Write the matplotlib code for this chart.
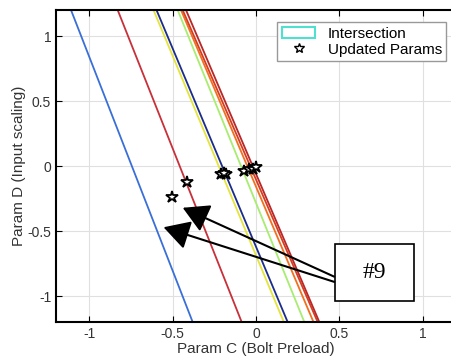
import numpy as np
import matplotlib.pyplot as plt
from matplotlib.patches import Patch, Rectangle
from matplotlib.lines import Line2D

# line ends: x at y = 1.2 (top) and at y = -1.2 (bottom)
x_top = [-1.11, -0.83, -0.615, -0.597, -0.47, -0.45, -0.44, -0.42]
x_bot = [-0.38, -0.086, 0.167, 0.19, 0.29, 0.345, 0.37, 0.38]
line_colors = ['#3a6fd8', '#c8303a', '#e4e43c', '#1c2c8c', '#a8ec70', '#f07020', '#d83c20', '#b82828']
y_ends = [1.2, -1.2]

# updated params (stars)
star_x = [-0.507, -0.417, -0.21, -0.18, -0.19, -0.073, -0.043, -0.02, 0.0]
star_y = [-0.237, -0.12, -0.06, -0.06, -0.055, -0.04, -0.02, -0.02, -0.01]

plt.rcParams['font.family'] = ['Liberation Sans', 'DejaVu Sans']
fig = plt.figure(figsize=(4.52, 3.62), dpi=100)
ax = fig.add_axes([0.124, 0.110, 0.885, 0.862])

for xt, xb, c in zip(x_top, x_bot, line_colors):
    ax.plot([xt, xb], y_ends, color=c, lw=1.3)

ax.plot(star_x, star_y, linestyle='none', marker='*', ms=9, mfc='white', mec='black', mew=1.3)

ax.set_xlim(-1.2, 1.2)
ax.set_ylim(-1.2, 1.2)
ax.set_xticks([-1, -0.5, 0, 0.5, 1])
ax.set_xticklabels(['-1', '-0.5', '0', '0.5', '1'])
ax.set_yticks([-1, -0.5, 0, 0.5, 1])
ax.set_yticklabels(['-1', '-0.5', '0', '0.5', '1'])
ax.grid(True, color='#e0e0e0', lw=0.8)
ax.set_axisbelow(True)
ax.tick_params(direction='in', top=True, right=False, labelsize=10, labelcolor='#333333', length=4)
for s in ax.spines.values():
    s.set_linewidth(1.5)
ax.spines['right'].set_visible(False)
ax.set_xlabel('Param C (Bolt Preload)', fontsize=11, color='#333333', labelpad=1)
ax.set_ylabel('Param D (Input scaling)', fontsize=11, color='#333333', labelpad=1)

handles = [Patch(facecolor='none', edgecolor='#50e0d0', lw=1.5),
           Line2D([], [], linestyle='none', marker='*', ms=7, mfc='white', mec='black')]
leg = ax.legend(handles, ['Intersection', 'Updated Params'], loc='upper right',
                bbox_to_anchor=(0.995, 0.985), fontsize=11, fancybox=False,
                borderpad=0.3, labelspacing=0.1, handletextpad=0.8, handlelength=2.2,
                framealpha=1)
leg.get_frame().set_edgecolor('#999999')

# annotation box "#9"
ax.add_patch(Rectangle((0.475, -1.04), 0.47, 0.445, facecolor='white', edgecolor='black', lw=1.2, zorder=5))
ax.text(0.71, -0.82, '#9', fontsize=17, family='Liberation Serif', ha='center', va='center', zorder=6)
for tail, head in [((0.469, -0.85), (-0.44, -0.32)), ((0.469, -0.89), (-0.555, -0.47))]:
    ax.annotate('', xy=head, xytext=tail,
                arrowprops=dict(arrowstyle='-|>,head_length=0.8,head_width=0.45',
                                mutation_scale=20, color='black', lw=1.5, shrinkA=0, shrinkB=0),
                zorder=6)

fig.savefig('out.png', dpi=100)
